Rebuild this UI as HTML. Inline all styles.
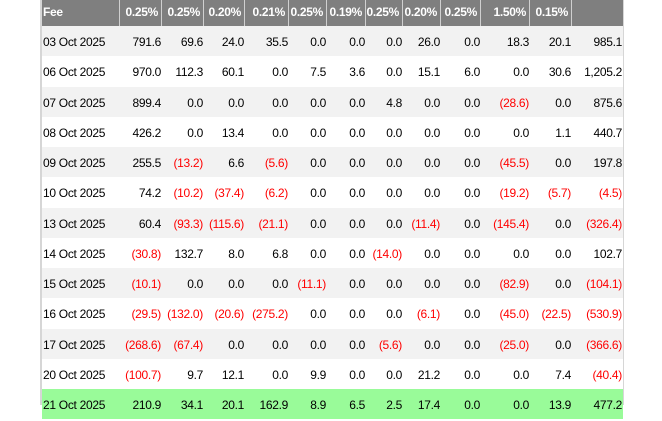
<!DOCTYPE html>
<html>
<head>
<meta charset="utf-8">
<style>
  html,body{margin:0;padding:0;background:#fff;}
  body{width:662px;height:405px;overflow:hidden;position:relative;font-family:"Liberation Sans",Arial,sans-serif;font-size:12px;letter-spacing:-0.3px;color:#000;}
  .lb{position:absolute;left:40px;top:0;width:2px;height:405px;background:#d6d6d6;}
  .rb{position:absolute;left:623px;top:0;width:1px;height:405px;background:#d6d6d6;}
  .row{position:absolute;left:42px;width:581px;height:30.25px;display:flex;}
  .row div{box-sizing:border-box;height:100%;line-height:31px;padding-top:1px;text-align:right;padding-right:1px;white-space:nowrap;}
  .row div:first-child{text-align:left;padding-left:1px;}
  .hdr{top:0;height:26px;background:#7f7f7f;color:#fff;font-weight:bold;}
  .hdr div{line-height:25px !important;padding-top:0 !important;padding-right:3px !important;border-right:1px solid #d0d0d0;}
  .hdr div:last-child{border-right:none;}
  .g{background:#f2f2f2;}
  .w{background:#fff;}
  .gr{background:#99fb99;}
  .n{color:#ff0000;}
  .c0{width:78px}.c1{width:42px}.c2{width:42px}.c3{width:41px}.c4{width:44px}.c5{width:38px}.c6{width:39px}.c7{width:37px}.c8{width:38px}.c9{width:40px}.c10{width:49px}.c11{width:42px}.c12{width:51px}
</style>
</head>
<body>
<div class="lb"></div>
<div class="rb"></div>

<div class="row hdr">
  <div class="c0">Fee</div><div class="c1">0.25%</div><div class="c2">0.25%</div><div class="c3">0.20%</div><div class="c4">0.21%</div><div class="c5">0.25%</div><div class="c6">0.19%</div><div class="c7">0.25%</div><div class="c8">0.20%</div><div class="c9">0.25%</div><div class="c10">1.50%</div><div class="c11">0.15%</div><div class="c12"></div>
</div>

<div class="row g" style="top:26px">
  <div class="c0">03 Oct 2025</div><div class="c1">791.6</div><div class="c2">69.6</div><div class="c3">24.0</div><div class="c4">35.5</div><div class="c5">0.0</div><div class="c6">0.0</div><div class="c7">0.0</div><div class="c8">26.0</div><div class="c9">0.0</div><div class="c10">18.3</div><div class="c11">20.1</div><div class="c12">985.1</div>
</div>
<div class="row w" style="top:56.25px">
  <div class="c0">06 Oct 2025</div><div class="c1">970.0</div><div class="c2">112.3</div><div class="c3">60.1</div><div class="c4">0.0</div><div class="c5">7.5</div><div class="c6">3.6</div><div class="c7">0.0</div><div class="c8">15.1</div><div class="c9">6.0</div><div class="c10">0.0</div><div class="c11">30.6</div><div class="c12">1,205.2</div>
</div>
<div class="row g" style="top:86.5px">
  <div class="c0">07 Oct 2025</div><div class="c1">899.4</div><div class="c2">0.0</div><div class="c3">0.0</div><div class="c4">0.0</div><div class="c5">0.0</div><div class="c6">0.0</div><div class="c7">4.8</div><div class="c8">0.0</div><div class="c9">0.0</div><div class="c10 n">(28.6)</div><div class="c11">0.0</div><div class="c12">875.6</div>
</div>
<div class="row w" style="top:116.75px">
  <div class="c0">08 Oct 2025</div><div class="c1">426.2</div><div class="c2">0.0</div><div class="c3">13.4</div><div class="c4">0.0</div><div class="c5">0.0</div><div class="c6">0.0</div><div class="c7">0.0</div><div class="c8">0.0</div><div class="c9">0.0</div><div class="c10">0.0</div><div class="c11">1.1</div><div class="c12">440.7</div>
</div>
<div class="row g" style="top:147px">
  <div class="c0">09 Oct 2025</div><div class="c1">255.5</div><div class="c2 n">(13.2)</div><div class="c3">6.6</div><div class="c4 n">(5.6)</div><div class="c5">0.0</div><div class="c6">0.0</div><div class="c7">0.0</div><div class="c8">0.0</div><div class="c9">0.0</div><div class="c10 n">(45.5)</div><div class="c11">0.0</div><div class="c12">197.8</div>
</div>
<div class="row w" style="top:177.25px">
  <div class="c0">10 Oct 2025</div><div class="c1">74.2</div><div class="c2 n">(10.2)</div><div class="c3 n">(37.4)</div><div class="c4 n">(6.2)</div><div class="c5">0.0</div><div class="c6">0.0</div><div class="c7">0.0</div><div class="c8">0.0</div><div class="c9">0.0</div><div class="c10 n">(19.2)</div><div class="c11 n">(5.7)</div><div class="c12 n">(4.5)</div>
</div>
<div class="row g" style="top:207.5px">
  <div class="c0">13 Oct 2025</div><div class="c1">60.4</div><div class="c2 n">(93.3)</div><div class="c3 n">(115.6)</div><div class="c4 n">(21.1)</div><div class="c5">0.0</div><div class="c6">0.0</div><div class="c7">0.0</div><div class="c8 n">(11.4)</div><div class="c9">0.0</div><div class="c10 n">(145.4)</div><div class="c11">0.0</div><div class="c12 n">(326.4)</div>
</div>
<div class="row w" style="top:237.75px">
  <div class="c0">14 Oct 2025</div><div class="c1 n">(30.8)</div><div class="c2">132.7</div><div class="c3">8.0</div><div class="c4">6.8</div><div class="c5">0.0</div><div class="c6">0.0</div><div class="c7 n">(14.0)</div><div class="c8">0.0</div><div class="c9">0.0</div><div class="c10">0.0</div><div class="c11">0.0</div><div class="c12">102.7</div>
</div>
<div class="row g" style="top:268px">
  <div class="c0">15 Oct 2025</div><div class="c1 n">(10.1)</div><div class="c2">0.0</div><div class="c3">0.0</div><div class="c4">0.0</div><div class="c5 n">(11.1)</div><div class="c6">0.0</div><div class="c7">0.0</div><div class="c8">0.0</div><div class="c9">0.0</div><div class="c10 n">(82.9)</div><div class="c11">0.0</div><div class="c12 n">(104.1)</div>
</div>
<div class="row w" style="top:298.25px">
  <div class="c0">16 Oct 2025</div><div class="c1 n">(29.5)</div><div class="c2 n">(132.0)</div><div class="c3 n">(20.6)</div><div class="c4 n">(275.2)</div><div class="c5">0.0</div><div class="c6">0.0</div><div class="c7">0.0</div><div class="c8 n">(6.1)</div><div class="c9">0.0</div><div class="c10 n">(45.0)</div><div class="c11 n">(22.5)</div><div class="c12 n">(530.9)</div>
</div>
<div class="row g" style="top:328.5px">
  <div class="c0">17 Oct 2025</div><div class="c1 n">(268.6)</div><div class="c2 n">(67.4)</div><div class="c3">0.0</div><div class="c4">0.0</div><div class="c5">0.0</div><div class="c6">0.0</div><div class="c7 n">(5.6)</div><div class="c8">0.0</div><div class="c9">0.0</div><div class="c10 n">(25.0)</div><div class="c11">0.0</div><div class="c12 n">(366.6)</div>
</div>
<div class="row w" style="top:358.75px">
  <div class="c0">20 Oct 2025</div><div class="c1 n">(100.7)</div><div class="c2">9.7</div><div class="c3">12.1</div><div class="c4">0.0</div><div class="c5">9.9</div><div class="c6">0.0</div><div class="c7">0.0</div><div class="c8">21.2</div><div class="c9">0.0</div><div class="c10">0.0</div><div class="c11">7.4</div><div class="c12 n">(40.4)</div>
</div>
<div class="row gr" style="top:389px">
  <div class="c0">21 Oct 2025</div><div class="c1">210.9</div><div class="c2">34.1</div><div class="c3">20.1</div><div class="c4">162.9</div><div class="c5">8.9</div><div class="c6">6.5</div><div class="c7">2.5</div><div class="c8">17.4</div><div class="c9">0.0</div><div class="c10">0.0</div><div class="c11">13.9</div><div class="c12">477.2</div>
</div>
</body>
</html>
